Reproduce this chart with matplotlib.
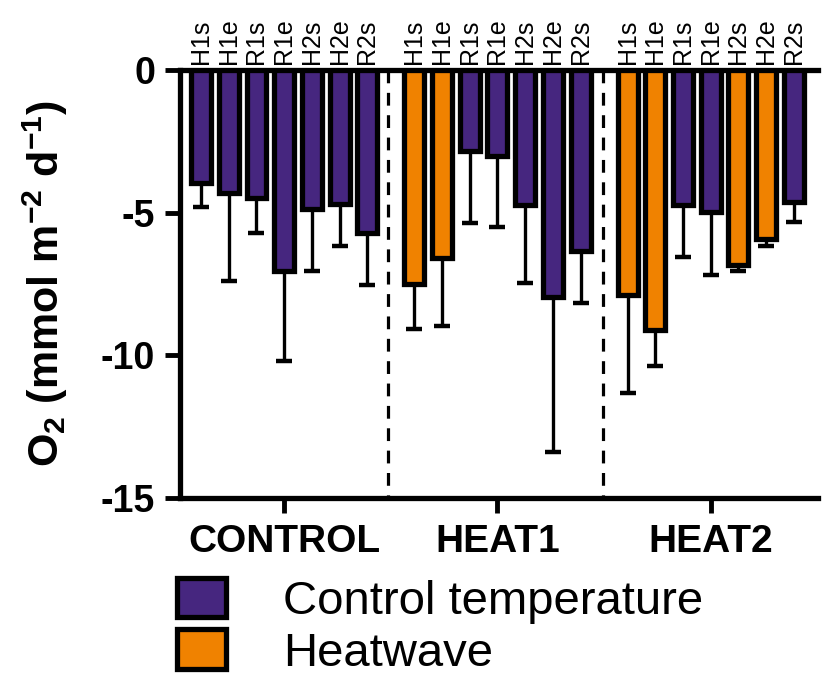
import numpy as np
import matplotlib
matplotlib.use("Agg")
import matplotlib.pyplot as plt
from matplotlib.patches import Patch

plt.rcParams['font.family'] = ['Liberation Sans', 'DejaVu Sans']
plt.rcParams['axes.unicode_minus'] = False
plt.rcParams['mathtext.fontset'] = 'custom'
plt.rcParams['mathtext.rm'] = 'Liberation Sans:bold'
plt.rcParams['mathtext.default'] = 'rm'

groups = ['CONTROL', 'HEAT1', 'HEAT2']
bar_labels = ['H1s', 'H1e', 'R1s', 'R1e', 'H2s', 'H2e', 'R2s']

# mean O2 flux and lower end of the error bar, per group
means = {
    'CONTROL': [-3.95, -4.30, -4.49, -7.03, -4.86, -4.68, -5.71],
    'HEAT1':   [-7.50, -6.58, -2.84, -3.00, -4.74, -7.97, -6.36],
    'HEAT2':   [-7.89, -9.12, -4.72, -4.99, -6.84, -5.92, -4.62],
}
err_ends = {
    'CONTROL': [-4.79, -7.39, -5.72, -10.21, -7.06, -6.16, -7.55],
    'HEAT1':   [-9.09, -8.98, -5.36, -5.52, -7.46, -13.38, -8.18],
    'HEAT2':   [-11.31, -10.39, -6.56, -7.20, -7.04, -6.16, -5.33],
}
# 1 = heatwave (orange), 0 = control temperature (purple)
heatwave = {
    'CONTROL': [0, 0, 0, 0, 0, 0, 0],
    'HEAT1':   [1, 1, 0, 0, 0, 0, 0],
    'HEAT2':   [1, 1, 0, 0, 1, 1, 0],
}

purple = '#46267f'
orange = '#f08200'
group_step = 7.7

fig = plt.figure(figsize=(8.27, 6.84), dpi=100)
ax = fig.add_axes([0.2177, 0.272, 0.989 - 0.2177, 0.8977 - 0.272])

all_x = []
all_lab = []
for g, name in enumerate(groups):
    x = np.arange(7) + g * group_step
    vals = np.array(means[name])
    ends = np.array(err_ends[name])
    cols = [orange if h else purple for h in heatwave[name]]
    ax.errorbar(x, vals, yerr=[vals - ends, np.zeros(7)], fmt='none',
                ecolor='black', elinewidth=2.4, capsize=5.5, capthick=3.2, zorder=2)
    ax.bar(x, vals, width=0.72, color=cols, edgecolor='black',
           linewidth=3.8, zorder=3)
    all_x.extend(x)
    all_lab.extend(bar_labels)

for xd in [6.75, 14.5]:
    ax.plot([xd, xd], [0, -15], color='black', lw=2.3, ls=(0, (4, 3)), zorder=1)

ax.set_xlim(-0.76, 22.27)
ax.set_ylim(-15, 0)
ax.set_yticks([0, -5, -10, -15])
ax.set_xticks([3 + g * group_step for g in range(3)])
ax.set_xticklabels(groups, fontsize=28, fontweight='bold')
ax.tick_params(axis='y', labelsize=27, width=3.5, length=11, direction='out', pad=7)
ax.tick_params(axis='x', width=3.5, length=11, direction='out', pad=8)
for lab in ax.get_yticklabels():
    lab.set_fontweight('bold')

ax.spines['right'].set_visible(False)
for s in ['left', 'bottom', 'top']:
    ax.spines[s].set_linewidth(3.8)

ax.set_ylabel('O$_2$ (mmol m$^{-2}$ d$^{-1}$)', fontsize=31,
              fontweight='bold', labelpad=22)

top = ax.secondary_xaxis('top')
top.set_xticks(all_x)
top.set_xticklabels(all_lab, rotation=90, fontsize=18)
top.tick_params(length=0, pad=4)
top.spines['top'].set_visible(False)

handles = [Patch(facecolor=purple, edgecolor='black', linewidth=3.8),
           Patch(facecolor=orange, edgecolor='black', linewidth=3.8)]
fig.legend(handles, ['Control temperature', 'Heatwave'],
           loc='upper left', bbox_to_anchor=(0.185, 0.19), frameon=False,
           fontsize=34, handlelength=1.05, handleheight=0.92,
           handletextpad=1.2, labelspacing=0.12, borderpad=0)

fig.savefig('out.png', dpi=100)
